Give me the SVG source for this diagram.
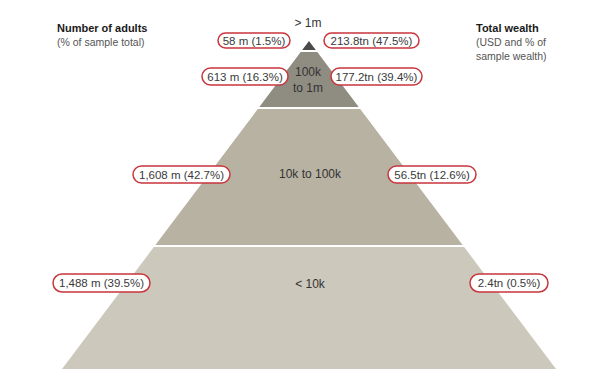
<svg xmlns="http://www.w3.org/2000/svg" width="605" height="375" viewBox="0 0 605 375">
<style>
  text { font-family: "Liberation Sans", Arial, sans-serif; fill: #3a3a3a; }
  .hdr { font-size: 11px; font-weight: bold; fill: #1a1a1a; }
  .sub { font-size: 10.5px; fill: #555; }
  .lbl { font-size: 11.5px; text-anchor: middle; }
  .pill { fill: #ffffff; stroke: #c8363c; stroke-width: 1.5; }
  .band-label { font-size: 12px; text-anchor: middle; fill: #333; }
</style>
<rect width="605" height="375" fill="#ffffff"/>

<g id="headers">
  <text class="hdr" x="57" y="32">Number of adults</text>
  <text class="sub" x="57" y="46">(% of sample total)</text>
  <text class="hdr" x="476" y="32">Total wealth</text>
  <text class="sub" x="476" y="46">(USD and % of</text>
  <text class="sub" x="476" y="60">sample wealth)</text>
</g>

<g id="tier-top">
  <polygon points="309,41 315.8,50 302.2,50" fill="#4a4a48"/>
  <text class="band-label" x="308" y="27">&gt; 1m</text>
</g>
<g id="tier-100k-1m">
  <polygon points="300.7,52 317.3,52 358.7,107 259.3,107" fill="#8f8c82"/>
  <text class="band-label" x="308" y="76">100k</text>
  <text class="band-label" x="308" y="92">to 1m</text>
</g>
<g id="tier-10k-100k">
  <polygon points="257.8,109 360.2,109 462.6,245 155.4,245" fill="#b7b2a2"/>
  <text class="band-label" x="310" y="178">10k to 100k</text>
</g>
<g id="tier-under-10k">
  <polygon points="153.9,247 464.1,247 556,369 62,369" fill="#ccc8bb"/>
  <text class="band-label" x="310" y="288">&lt; 10k</text>
</g>

<g id="label-adults-1m">
  <rect class="pill" x="218" y="33" width="72" height="15" rx="7.5"/>
  <text class="lbl" x="254" y="44.5">58 m (1.5%)</text>
</g>
<g id="label-wealth-1m">
  <rect class="pill" x="324" y="33" width="95" height="15" rx="7.5"/>
  <text class="lbl" x="371.5" y="44.5">213.8tn (47.5%)</text>
</g>
<g id="label-adults-100k">
  <rect class="pill" x="202" y="68" width="86" height="17" rx="8.5"/>
  <text class="lbl" x="245" y="80.5">613 m (16.3%)</text>
</g>
<g id="label-wealth-100k">
  <rect class="pill" x="331" y="68" width="91" height="17" rx="8.5"/>
  <text class="lbl" x="376.5" y="80.5">177.2tn (39.4%)</text>
</g>
<g id="label-adults-10k">
  <rect class="pill" x="133" y="166" width="97" height="17" rx="8.5"/>
  <text class="lbl" x="181.5" y="178.5">1,608 m (42.7%)</text>
</g>
<g id="label-wealth-10k">
  <rect class="pill" x="388" y="166" width="88" height="17" rx="8.5"/>
  <text class="lbl" x="432" y="178.5">56.5tn (12.6%)</text>
</g>
<g id="label-adults-under">
  <rect class="pill" x="53" y="274" width="97" height="18" rx="9"/>
  <text class="lbl" x="101.5" y="287">1,488 m (39.5%)</text>
</g>
<g id="label-wealth-under">
  <rect class="pill" x="470" y="274" width="78" height="18" rx="9"/>
  <text class="lbl" x="509" y="287">2.4tn (0.5%)</text>
</g>
<g id="connectors"></g>
</svg>
